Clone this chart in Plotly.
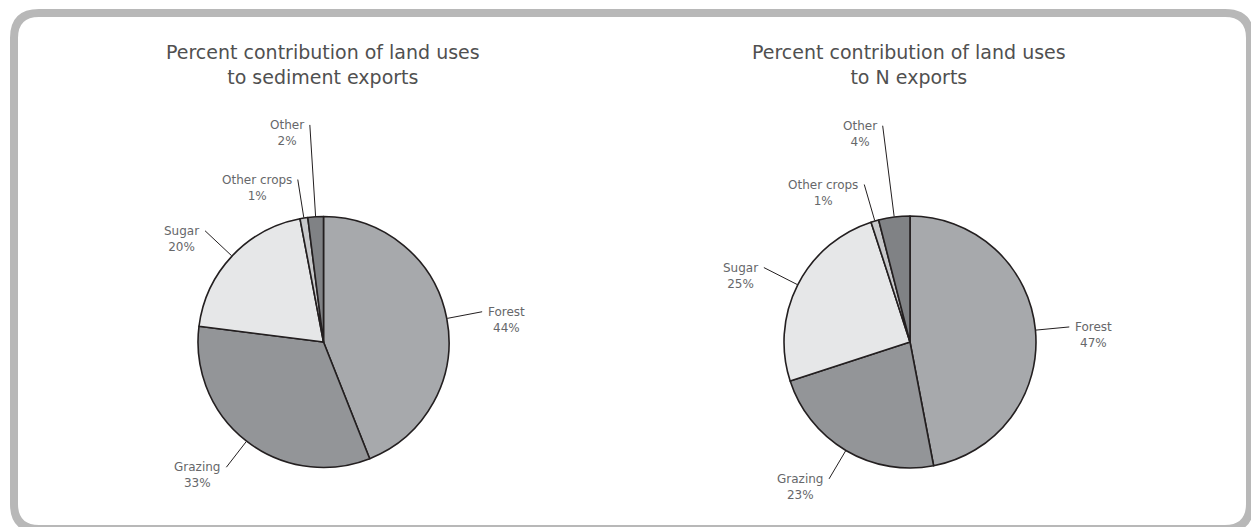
import numpy as np
import plotly.graph_objects as go

# ---------------- data ----------------
categories = ["Forest", "Grazing", "Sugar", "Other crops", "Other"]
sediment_pct = [44, 33, 20, 1, 2]
nitrogen_pct = [47, 23, 25, 1, 4]
chart_titles = [
    "Percent contribution of land uses<br>to sediment exports",
    "Percent contribution of land uses<br>to N exports",
]

# ---------------- style ----------------
W, H = 1251, 527
slice_colors = ["#a7a9ac", "#939598", "#e6e7e8", "#c7c8ca", "#808285"]
outline = "#231f20"
label_color = "#66676a"
title_color = "#505050"
FONT = "DejaVu Sans"

pie_layout = [
    dict(cx=323.5, cy=342.0, r=125.5, leader=[36, 33, 37, 39, 92]),
    dict(cx=910.0, cy=342.0, r=126.0, leader=[34, 33, 38, 38, 92]),
]
series = [sediment_pct, nitrogen_pct]

fig = go.Figure()
annotations = []

for vals, geo, title in zip(series, pie_layout, chart_titles):
    cx, cy, r = geo["cx"], geo["cy"], geo["r"]
    fig.add_trace(go.Pie(
        labels=categories,
        values=vals,
        sort=False,
        direction="clockwise",
        rotation=0,
        textinfo="none",
        hoverinfo="label+percent",
        marker=dict(colors=slice_colors, line=dict(color=outline, width=1.6)),
        domain=dict(x=[(cx - r) / W, (cx + r) / W],
                    y=[1 - (cy + r) / H, 1 - (cy - r) / H]),
        showlegend=False,
    ))

    total = float(sum(vals))
    cum = np.cumsum([0] + list(vals))[:-1]
    lx, ly = [], []
    for name, v, c, lead in zip(categories, vals, cum, geo["leader"]):
        theta = np.deg2rad((c + v / 2.0) / total * 360.0)
        sx, sy = np.sin(theta), -np.cos(theta)
        x0, y0 = cx + (r + 0.5) * sx, cy + (r + 0.5) * sy
        x1, y1 = cx + (r + lead) * sx, cy + (r + lead) * sy
        lx += [x0, x1, None]
        ly += [y0, y1, None]
        right = sx > 0
        annotations.append(dict(
            x=x1 + (4 if right else -4), y=y1 + 8,
            xref="x", yref="y",
            xanchor="left" if right else "right", yanchor="middle",
            align="center", showarrow=False,
            text=f"{name}<br>{v}%",
            font=dict(family=FONT, size=12, color=label_color),
        ))
    fig.add_trace(go.Scatter(
        x=lx, y=ly, mode="lines",
        line=dict(color=outline, width=1),
        hoverinfo="skip", showlegend=False,
    ))

    annotations.append(dict(
        x=cx - 1, y=64, xref="x", yref="y",
        xanchor="center", yanchor="middle", align="center",
        showarrow=False, text=title,
        font=dict(family=FONT, size=19, color=title_color),
    ))

# rounded frame
x0, y0, x1, y1, cr = 14, 13, 1250, 529, 25
frame_path = (
    f"M {x0 + cr},{y0} L {x1 - cr},{y0} Q {x1},{y0} {x1},{y0 + cr} "
    f"L {x1},{y1 - cr} Q {x1},{y1} {x1 - cr},{y1} "
    f"L {x0 + cr},{y1} Q {x0},{y1} {x0},{y1 - cr} "
    f"L {x0},{y0 + cr} Q {x0},{y0} {x0 + cr},{y0} Z"
)

fig.update_layout(
    width=W, height=H, autosize=False,
    margin=dict(l=0, r=0, t=0, b=0, pad=0),
    paper_bgcolor="white", plot_bgcolor="white",
    showlegend=False,
    xaxis=dict(range=[0, W], visible=False, fixedrange=True),
    yaxis=dict(range=[H, 0], visible=False, fixedrange=True),
    annotations=annotations,
    shapes=[dict(type="path", path=frame_path, xref="x", yref="y",
                 line=dict(color="#b8b8b8", width=8), layer="below")],
)

fig.write_html("out.html")
